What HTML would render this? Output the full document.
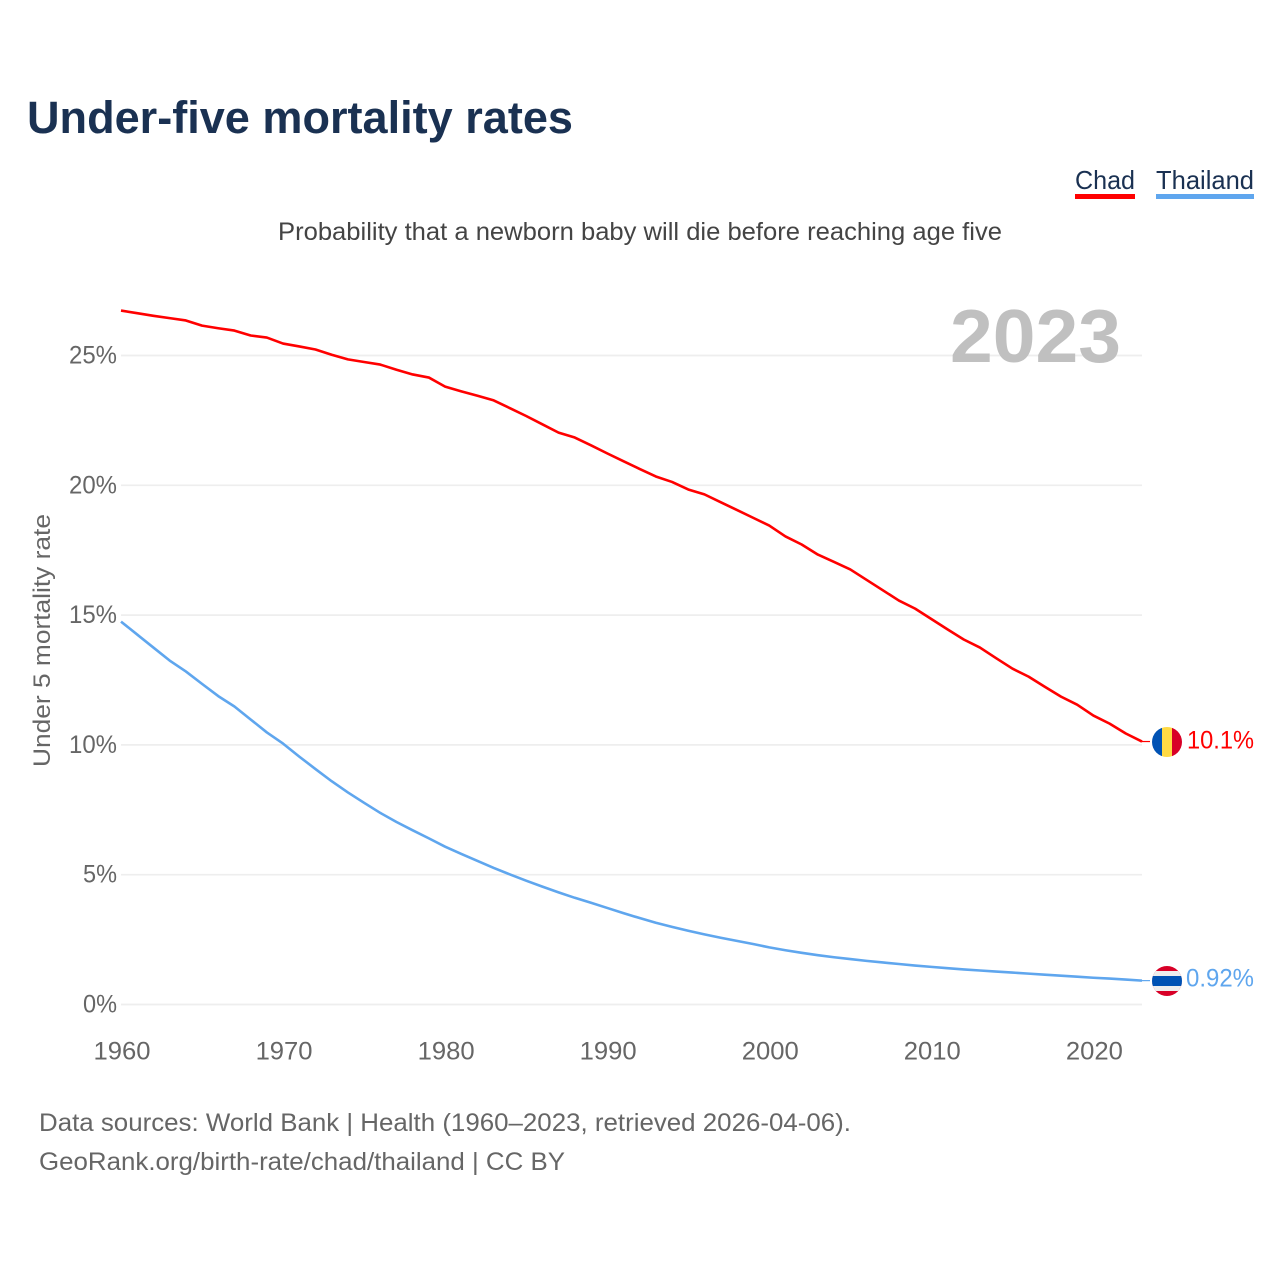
<!DOCTYPE html>
<html lang="en">
<head>
<meta charset="utf-8">
<title>Under-five mortality rates</title>
<style>
html,body{margin:0;padding:0;background:#fff;width:1280px;height:1280px;overflow:hidden}
svg{display:block}
text{font-family:"Liberation Sans",sans-serif}
</style>
</head>
<body>
<svg id="chart" width="1280" height="1280" viewBox="0 0 1280 1280" xmlns="http://www.w3.org/2000/svg">
  <text x="27" y="133" font-size="45" font-weight="700" fill="#1a3152" textLength="546" lengthAdjust="spacingAndGlyphs">Under-five mortality rates</text>
  <text x="278" y="240" font-size="25" fill="#444444" textLength="724" lengthAdjust="spacingAndGlyphs">Probability that a newborn baby will die before reaching age five</text>

  <g>
    <text x="1075" y="189" font-size="26" fill="#1a3152" textLength="60" lengthAdjust="spacingAndGlyphs">Chad</text>
    <rect x="1075" y="194" width="60" height="5" fill="#ff0000"/>
  </g>
  <g>
    <text x="1156" y="189" font-size="26" fill="#1a3152" textLength="98" lengthAdjust="spacingAndGlyphs">Thailand</text>
    <rect x="1156" y="194" width="98" height="5" fill="#5fa6ee"/>
  </g>

  <g id="grid"></g>
  <g id="yticks"></g>
  <g id="xticks"></g>

  <text x="950" y="362" font-size="75" font-weight="700" fill="#bdbdbd" fill-opacity="0.96" textLength="171" lengthAdjust="spacingAndGlyphs">2023</text>

  <text transform="translate(50,767) rotate(-90)" x="0" y="0" font-size="24" fill="#666666" textLength="253" lengthAdjust="spacingAndGlyphs">Under 5 mortality rate</text>

  <g id="series"></g>

  <g>
    <clipPath id="clip-chad"><circle cx="1167" cy="742" r="15"/></clipPath>
    <g clip-path="url(#clip-chad)">
      <rect x="1152" y="727" width="10" height="30" fill="#0052b4"/>
      <rect x="1162" y="727" width="10" height="30" fill="#ffda44"/>
      <rect x="1172" y="727" width="10" height="30" fill="#d80027"/>
    </g>
  </g>
  <g>
    <clipPath id="clip-thailand"><circle cx="1167" cy="981" r="15"/></clipPath>
    <g clip-path="url(#clip-thailand)">
      <rect x="1152" y="966" width="30" height="30" fill="#d80027"/>
      <rect x="1152" y="971" width="30" height="20" fill="#eeeeee"/>
      <rect x="1152" y="976" width="30" height="10" fill="#0052b4"/>
    </g>
  </g>

  <text x="39" y="1131" font-size="25" fill="#666666" textLength="812" lengthAdjust="spacingAndGlyphs">Data sources: World Bank | Health (1960–2023, retrieved 2026-04-06).</text>
  <text x="39" y="1170" font-size="25" fill="#666666" textLength="526" lengthAdjust="spacingAndGlyphs">GeoRank.org/birth-rate/chad/thailand | CC BY</text>
</svg>
<script>
const years = [1960,1961,1962,1963,1964,1965,1966,1967,1968,1969,1970,1971,1972,1973,1974,1975,1976,1977,1978,1979,1980,1981,1982,1983,1984,1985,1986,1987,1988,1989,1990,1991,1992,1993,1994,1995,1996,1997,1998,1999,2000,2001,2002,2003,2004,2005,2006,2007,2008,2009,2010,2011,2012,2013,2014,2015,2016,2017,2018,2019,2020,2021,2022,2023];
const chadValues = [26.73,26.63,26.53,26.44,26.35,26.15,26.05,25.96,25.77,25.69,25.46,25.35,25.23,25.03,24.85,24.75,24.65,24.45,24.27,24.15,23.8,23.62,23.45,23.27,22.97,22.67,22.35,22.03,21.84,21.54,21.23,20.93,20.63,20.34,20.13,19.84,19.65,19.35,19.05,18.75,18.45,18.03,17.72,17.33,17.05,16.76,16.36,15.96,15.56,15.25,14.85,14.45,14.06,13.75,13.34,12.94,12.63,12.24,11.86,11.55,11.13,10.82,10.44,10.13];
const thailandValues = [14.75,14.25,13.75,13.25,12.83,12.35,11.88,11.48,10.98,10.48,10.05,9.55,9.07,8.6,8.17,7.77,7.38,7.03,6.71,6.4,6.08,5.8,5.53,5.26,5.01,4.77,4.54,4.32,4.11,3.92,3.72,3.52,3.33,3.15,2.99,2.84,2.7,2.57,2.45,2.33,2.2,2.09,1.99,1.9,1.82,1.75,1.68,1.62,1.56,1.5,1.45,1.4,1.35,1.31,1.27,1.23,1.19,1.15,1.11,1.07,1.03,1.0,0.96,0.92];
const yTickValues = [0,5,10,15,20,25];
const yTickLabels = ["0%","5%","10%","15%","20%","25%"];
const xTickValues = [1960,1970,1980,1990,2000,2010,2020];
const endLabels = ["10.1%","0.92%"];

const NS = "http://www.w3.org/2000/svg";
const xAxis = function (year) { return 121 + (year - 1960) * (1021 / 63); };
const yAxis = function (v) { return 1004.5 - v * 25.96; };

function make(tag, attrs, parent, content) {
  const el = document.createElementNS(NS, tag);
  Object.keys(attrs).forEach(function (k) { el.setAttribute(k, attrs[k]); });
  if (content !== undefined) el.textContent = content;
  parent.appendChild(el);
  return el;
}

const gridG = document.getElementById("grid");
const yG = document.getElementById("yticks");
const xG = document.getElementById("xticks");
const seriesG = document.getElementById("series");

yTickValues.forEach(function (v, i) {
  const line = make("line", { x1: 121, x2: 1142, y1: yAxis(v), y2: yAxis(v), stroke: "#eeeeee", "stroke-width": 1.7 }, gridG);
  
  
  const label = yTickLabels[i];
  const t = make("text", { x: 117, y: yAxis(v) + 8, "text-anchor": "end", "font-size": 25, fill: "#666666", textLength: label.length === 3 ? 48 : 34, lengthAdjust: "spacingAndGlyphs" }, yG, label);
  
  
});

xTickValues.forEach(function (year) {
  const t = make("text", { x: xAxis(year) + 1, y: 1059.5, "text-anchor": "middle", "font-size": 25, fill: "#666666", textLength: 57, lengthAdjust: "spacingAndGlyphs" }, xG, String(year));
  
  
});

function linePath(values) {
  return values.map(function (v, i) {
    return (i ? "L" : "M") + xAxis(years[i]).toFixed(2) + " " + yAxis(v).toFixed(2);
  }).join(" ");
}

const chadLine = make("path", { d: linePath(chadValues), fill: "none", stroke: "#ff0000", "stroke-width": 2.6, "stroke-linejoin": "round" }, seriesG);



const thaiLine = make("path", { d: linePath(thailandValues), fill: "none", stroke: "#5fa6ee", "stroke-width": 2.6, "stroke-linejoin": "round" }, seriesG);



const lastChad = chadValues[chadValues.length - 1];
const lastThai = thailandValues[thailandValues.length - 1];
const lastX = xAxis(years[years.length - 1]);

const chadLeader = make("line", { x1: lastX, x2: lastX + 8, y1: yAxis(lastChad), y2: yAxis(lastChad), stroke: "#ff0000", "stroke-width": 1.2 }, seriesG);



const thaiLeader = make("line", { x1: lastX, x2: lastX + 8, y1: yAxis(lastThai), y2: yAxis(lastThai), stroke: "#5fa6ee", "stroke-width": 1.2 }, seriesG);



const chadEnd = make("text", { x: 1254, y: 748.5, "text-anchor": "end", "font-size": 25, fill: "#ff0000", textLength: 67, lengthAdjust: "spacingAndGlyphs" }, seriesG, endLabels[0]);



const thaiEnd = make("text", { x: 1254, y: 986.5, "text-anchor": "end", "font-size": 25, fill: "#5fa6ee", textLength: 68, lengthAdjust: "spacingAndGlyphs" }, seriesG, endLabels[1]);


</script>
</body>
</html>
